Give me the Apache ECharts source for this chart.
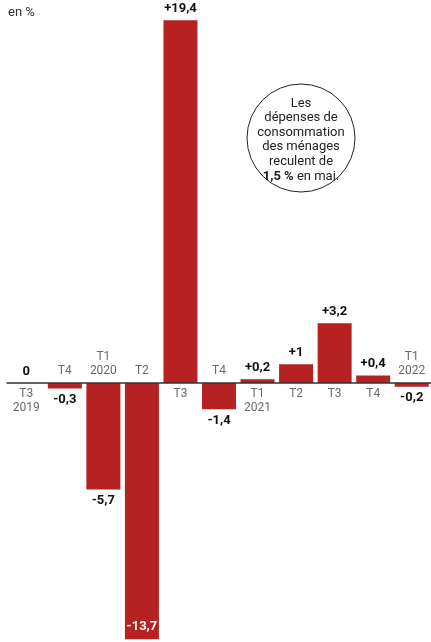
<!DOCTYPE html>
<html>
<head>
<meta charset="utf-8">
<style>
  html, body { margin: 0; padding: 0; background: #fff; }
  #chart { width: 431px; height: 642px; }
</style>
<script src="https://cdn.jsdelivr.net/npm/echarts@6/dist/echarts.min.js"></script>
</head>
<body>
<div id="chart"></div>
<script>
// trimestres
var categories = ['T3\n2019', 'T4', 'T1\n2020', 'T2', 'T3', 'T4', 'T1\n2021', 'T2', 'T3', 'T4', 'T1\n2022'];
// évolution en %
var values = [0, -0.3, -5.7, -13.7, 19.4, -1.4, 0.2, 1, 3.2, 0.4, -0.2];

var RED = '#b52221';
var FONT = 'Roboto';

function fmt(v) {
  if (v === 0) return '0';
  var s = String(Math.abs(v)).replace('.', ',');
  return (v > 0 ? '+' : '-') + s;
}

var myChart = echarts.init(document.getElementById('chart'));

var barData = values.map(function(v, i) {
  var item = { value: v, label: { position: v < 0 ? 'bottom' : 'top' } };
  if (v < -10) {
    item.label = { position: 'insideBottom', color: '#fff', distance: 6 };
  }
  return item;
});

// étiquettes des trimestres, de l'autre côté de l'axe
var catData = values.map(function(v, i) {
  return { value: [i, 0], label: { position: v < 0 ? 'top' : 'bottom' } };
});

var option = {
  animation: false,
  grid: { left: 7, right: -5, top: 0, bottom: 0 },
  xAxis: {
    type: 'category',
    data: categories,
    axisLine: { lineStyle: { color: '#333', width: 1.5 } },
    axisTick: { show: false },
    axisLabel: { show: false },
    z: 5
  },
  yAxis: {
    type: 'value',
    min: -13.85,
    max: 20.48,
    show: false,
    splitLine: { show: false }
  },
  graphic: [
    {
      type: 'text',
      left: 8,
      top: 6,
      style: { text: 'en %', fill: '#333', font: '13px ' + FONT }
    },
    {
      type: 'circle',
      shape: { cx: 301, cy: 138, r: 54 },
      style: { fill: '#fff', stroke: '#222', lineWidth: 1 }
    },
    {
      type: 'text',
      x: 301,
      y: 96,
      style: {
        text: 'Les\ndépenses de\nconsommation\ndes ménages\nreculent de\n{b|1,5 %} en mai.',
        fill: '#222',
        font: '13px ' + FONT,
        align: 'center',
        lineHeight: 14.6,
        rich: { b: { fontWeight: 'bold', fontSize: 13, fontFamily: FONT, fill: '#222' } }
      }
    }
  ],
  series: [
    {
      type: 'bar',
      data: barData,
      barWidth: 34,
      itemStyle: { color: RED },
      label: {
        show: true,
        distance: 5,
        color: '#111',
        fontFamily: FONT,
        fontWeight: 'bold',
        fontSize: 13,
        formatter: function(p) { return fmt(p.value); }
      }
    },
    {
      type: 'scatter',
      data: catData,
      symbolSize: 1,
      itemStyle: { color: 'rgba(0,0,0,0)' },
      label: {
        show: true,
        distance: 4,
        color: '#444',
        fontFamily: FONT,
        fontSize: 12,
        lineHeight: 14,
        align: 'center',
        formatter: function(p) { return categories[p.dataIndex]; }
      }
    }
  ]
};

myChart.setOption(option);
</script>
</body>
</html>
